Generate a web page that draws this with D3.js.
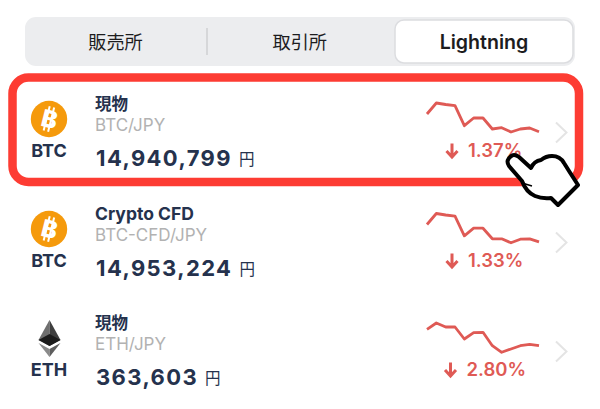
<!DOCTYPE html>
<html>
<head>
<meta charset="utf-8">
<script src="https://cdn.jsdelivr.net/npm/d3@7"></script>
<style>
html, body { margin: 0; padding: 0; background: #fff; }
svg { display: block; }
text { font-family: Inter, "Noto Sans CJK JP", sans-serif; }
</style>
</head>
<body>
<div id="chart"></div>
<script>
// values
const tabs = ["販売所", "取引所", "Lightning"];
const symbols = ["BTC", "BTC", "ETH"];
const products = ["現物", "Crypto CFD", "現物"];
const pairs = ["BTC/JPY", "BTC-CFD/JPY", "ETH/JPY"];
const prices = [14940799, 14953224, 363603];
const changes = [1.37, 1.33, 2.80];
const btcSpot = [21, 32, 30.5, 29.3, 9.3, 17, 17, 6, 7.3, 3, 6, 7, 3.3];
const btcCfd = [20.5, 31.5, 30, 28.8, 9.2, 16.8, 16.8, 6.2, 6.2, 2.2, 5.8, 6.2, 3.2];
const ethSpot = [24.7, 31, 27, 27, 15, 21.3, 21.7, 8.3, 1.7, 5, 8.3, 9.7, 8.3];
const sparks = [btcSpot, btcCfd, ethSpot];

const width = 600, height = 409;
const navy = "#25324d", red = "#df5a55";
const rowY = [0, 110, 219];
const cjk = "'Noto Sans CJK JP', sans-serif";

const svg = d3.select("#chart").append("svg")
    .attr("width", width)
    .attr("height", height);

// tab bar
svg.append("rect").attr("x", 25).attr("y", 17).attr("width", 550).attr("height", 49)
    .attr("rx", 11).attr("fill", "#ecedef");
svg.append("rect").attr("x", 206).attr("y", 28).attr("width", 2).attr("height", 27).attr("fill", "#d6d7d9");
svg.append("rect").attr("x", 395).attr("y", 20).attr("width", 178).attr("height", 43)
    .attr("rx", 9).attr("fill", "#fff").attr("stroke", "#dcdde0").attr("stroke-width", 1.5);

const tabX = d3.scalePoint().domain(tabs).range([115.5, 484]);
svg.selectAll(".tab").data(tabs).enter().append("text")
    .attr("class", "tab")
    .attr("x", d => tabX(d))
    .attr("y", 48.5)
    .attr("text-anchor", "middle")
    .attr("font-size", d => d == "Lightning" ? 19.6 : 18.2)
    .attr("font-weight", d => d == "Lightning" ? 600 : 400)
    .attr("fill", "#1c1c1e")
    .style("font-family", d => d == "Lightning" ? null : cjk)
    .text(d => d);

// highlight box
svg.append("rect").attr("x", 12.5).attr("y", 77.5).attr("width", 566.5).attr("height", 104.5)
    .attr("rx", 16).attr("fill", "#fff").attr("stroke", "#fd3c33").attr("stroke-width", 8.5);

const x = d3.scalePoint().domain(d3.range(btcSpot.length)).range([427, 539]);
const y = d3.scaleLinear().domain([0, 40]).range([135, 95]);
const line = d3.line().x((d, i) => x(i)).y(d => y(d));
const fmt = d3.format(",");

symbols.forEach((sym, i) => {
    const g = svg.append("g").attr("transform", "translate(0," + rowY[i] + ")");

    if (sym == "BTC") {
        g.append("circle").attr("cx", 49).attr("cy", 119).attr("r", 18.2).attr("fill", "#f59a0c");
        const b = g.append("g").attr("transform", "translate(49,119) rotate(14)");
        b.selectAll("rect").data([-3.4, 1.2]).enter().append("rect")
            .attr("x", d => d).attr("y", -12.5).attr("width", 2).attr("height", 25).attr("fill", "#fff");
        b.append("text").attr("x", 0.5).attr("y", 8.5).attr("text-anchor", "middle")
            .attr("font-size", 24).attr("font-weight", 800).attr("fill", "#fff").text("B");
    } else {
        // ethereum diamond
        g.append("polygon").attr("points", "49.5,101 38.5,121 49.5,127 49.5,101").attr("fill", "#6f6f6f");
        g.append("polygon").attr("points", "49.5,101 60.5,121 49.5,127").attr("fill", "#3f3f3f");
        g.append("polygon").attr("points", "38.5,121 49.5,115 60.5,121 49.5,127").attr("fill", "#1c1c1c");
        g.append("polygon").attr("points", "38.5,124 49.5,130 49.5,138").attr("fill", "#8a8a8a");
        g.append("polygon").attr("points", "60.5,124 49.5,130 49.5,138").attr("fill", "#5e5e5e");
    }

    g.append("text").attr("x", 49).attr("y", 156.5).attr("text-anchor", "middle")
        .attr("font-size", 18).attr("font-weight", 700).attr("fill", navy).text(sym);

    g.append("text").attr("x", 95).attr("y", 110)
        .attr("font-size", i == 1 ? 17.5 : 16.5).attr("font-weight", 700).attr("fill", navy)
        .text(products[i]);
    g.append("text").attr("x", 95).attr("y", 131)
        .attr("font-size", 17).attr("fill", "#b2b2b2").text(pairs[i]);
    const price = g.append("text").attr("x", 96).attr("y", 165.5)
        .attr("font-size", 22).attr("font-weight", 700).attr("letter-spacing", 1.4)
        .attr("fill", navy).text(fmt(prices[i]));
    g.append("text")
        .attr("x", 96 + price.node().getComputedTextLength() + 7)
        .attr("y", 165)
        .attr("font-size", 15.5).attr("fill", navy).style("font-family", cjk).text("円");

    // sparkline
    g.append("path").attr("d", line(sparks[i])).attr("fill", "none")
        .attr("stroke", red).attr("stroke-width", 2.8).attr("stroke-linejoin", "round");

    // change
    const ax = i == 2 ? 450.5 : 452;
    g.append("path")
        .attr("d", "M" + ax + ",143.5V157M" + (ax - 5.5) + ",151L" + ax + ",157L" + (ax + 5.5) + ",151")
        .attr("fill", "none").attr("stroke", red).attr("stroke-width", 3);
    g.append("text").attr("x", i == 2 ? 466.5 : 468).attr("y", 156.5)
        .attr("font-size", 18.5).attr("font-weight", 600).attr("fill", red)
        .text(changes[i].toFixed(2) + "%");

    // chevron
    g.append("path").attr("d", "M556,122.5L566.5,132.5L556,142.5").attr("fill", "none")
        .attr("stroke", "#e4e4e4").attr("stroke-width", 2);
});

// pointing hand on top of the first row
const hand = "M512,155.5 Q515,154 519,157 L531,168 Q534,161 541,160 Q546,156 552,156 Q560,156 564,163 "
    + "L569,171 L578,185 L558,205 L551,198 Q542,199 535,196 Q526,192 522,181 L509,166 Q505,160 512,155.5 Z";
svg.append("path").attr("d", hand)
    .attr("fill", "#fff").attr("stroke", "#000").attr("stroke-width", 4).attr("stroke-linejoin", "round");
svg.append("path").attr("d", "M522,183L532,186").attr("stroke", "#000").attr("stroke-width", 1.5);
</script>
</body>
</html>
